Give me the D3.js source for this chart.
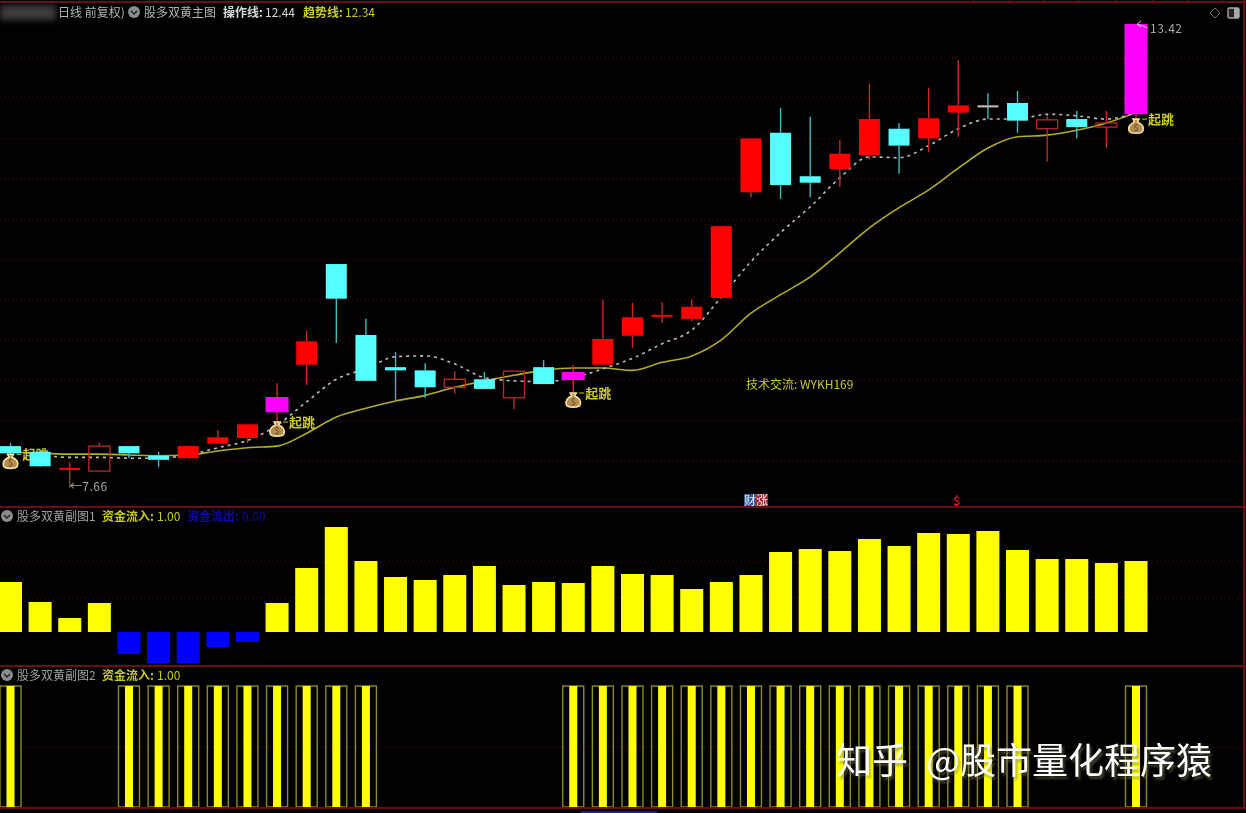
<!DOCTYPE html>
<html lang="zh">
<head>
    <meta charset="UTF-8">
    <title>股多双黄</title>
    <script src="https://cdn.jsdelivr.net/npm/d3@7/dist/d3.min.js"></script>
    <style>
        html, body { margin: 0; padding: 0; background: #000; overflow: hidden; }
        svg { display: block; }
        text { font-family: "Noto Sans CJK SC", "Noto Sans", sans-serif; }
        .chart { filter: blur(0.45px); }
        .grid line { stroke: #5a0d14; stroke-dasharray: 1 3; }
        .grid path { display: none; }
        .top-axis line { stroke: #7a0f18; }
        .top-axis path { display: none; }
        .divider { stroke: #6e0a14; stroke-width: 2; }
        .watermark { font-size: 36px; fill: #fff; filter: drop-shadow(2px 3px 1px rgba(120,120,90,.55)); }
    </style>
</head>
<body>
    <svg width="1246" height="813"></svg>
    <script>
        // candles, one per day
        var opens  = [8.18,8.11,7.90,7.87,8.18,8.06,8.03,8.21,8.28,8.60,9.19,10.44,9.56,9.16,9.12,8.91,9.01,8.78,9.16,9.00,9.19,9.55,9.80,9.76,10.02,11.33,12.07,11.53,11.62,11.79,12.12,12.00,12.32,12.41,12.44,12.12,12.24,12.14,12.30];
        var closes = [8.09,7.93,7.91,8.18,8.09,8.01,8.18,8.29,8.45,8.79,9.48,10.01,8.99,9.12,8.91,9.01,8.89,9.11,8.95,9.10,9.51,9.78,9.81,9.91,10.91,12.00,11.42,11.45,11.81,12.24,11.91,12.25,12.41,12.40,12.22,12.23,12.14,12.19,13.42];
        var highs  = [8.22,8.13,7.98,8.22,8.18,8.11,8.18,8.38,8.45,8.96,9.61,10.44,9.76,9.35,9.21,9.11,9.10,9.11,9.25,9.19,10.00,9.96,9.97,10.00,10.91,12.00,12.38,12.27,11.98,12.68,12.19,12.63,12.97,12.56,12.59,12.29,12.34,12.34,13.42];
        var lows   = [8.04,7.92,7.66,7.87,8.03,7.92,8.03,8.21,8.22,8.47,8.94,9.46,8.99,8.75,8.78,8.83,8.89,8.64,8.95,8.84,9.19,9.40,9.71,9.73,10.01,11.27,11.25,11.27,11.40,11.74,11.56,11.83,12.02,12.24,12.07,11.71,12.00,11.88,12.17];
        var hollowDays = [3,15,17,35,37];
        var magentaDays = [9,19,38];
        var jumpDays = [0,9,19,38];
        var jumpBagPrices = [7.98,8.38,8.74,12.14];

        var operateLine = [null,8.07,8.04,8.04,8.03,8.03,8.07,8.16,8.25,8.44,8.73,9.01,9.14,9.29,9.30,9.20,9.03,8.99,8.98,9.03,9.14,9.27,9.45,9.62,10.03,10.47,10.83,11.15,11.51,11.77,11.76,11.91,12.12,12.24,12.24,12.30,12.28,12.24,12.32];
        var trendLine = [8.11,8.09,8.08,8.08,8.07,8.06,8.07,8.12,8.16,8.18,8.34,8.54,8.65,8.74,8.81,8.91,8.99,9.06,9.12,9.15,9.15,9.12,9.22,9.30,9.50,9.83,10.06,10.28,10.58,10.89,11.14,11.36,11.63,11.88,12.02,12.04,12.10,12.19,12.32];

        // sub chart 1 and 2
        var moneyFlow = [5.0,3.0,1.4,2.9,-2.2,-3.1,-3.1,-1.5,-1.0,2.9,6.4,10.5,7.1,5.5,5.2,5.7,6.6,4.7,5.0,4.9,6.6,5.8,5.7,4.3,5.0,5.7,8.0,8.3,8.1,9.3,8.6,9.9,9.8,10.1,8.2,7.3,7.3,6.9,7.1];
        var inflowFlag = [1,0,0,0,1,1,1,1,1,1,1,1,1,0,0,0,0,0,0,1,1,1,1,1,1,1,1,1,1,1,1,1,1,1,1,0,0,0,1];

        var priceGrid = [13,12.5,12,11.5,11,10.5,10,9.5,9,8.5,8];
        var flowGrid = [7,3.5];
        var flagGrid = [0.5];
        var topTicks = [32.5,33.7,34.9,36.05,37.3,38.55,39.75,40.9];

        var svg = d3.select('svg'),
            width = 1246,
            chart = svg.append('g').classed('chart', true),
            x = d3.scaleLinear().domain([0, 38]).range([10.5, 1136]),
            y = d3.scaleLinear().domain([7.66, 13.42]).range([488, 24]),
            yFlow = d3.scaleLinear().domain([-3.1, 10.5]).range([663, 527]),
            yFlag = d3.scaleLinear().domain([0, 1]).range([807, 686]);

        var days = d3.range(opens.length);
        var white = '#b4b4b4', gold = '#c8c828', blue = '#0c0ca0';

        function grid(scale, values) {
            chart.append('g')
                .classed('grid', true)
                .call(d3.axisLeft(scale).tickValues(values).tickSize(-width).tickFormat(''));
        }
        grid(y, priceGrid);
        grid(yFlow, flowGrid);
        grid(yFlag, flagGrid);

        chart.append('g')
            .classed('top-axis', true)
            .attr('transform', 'translate(0,3)')
            .call(d3.axisTop(x).tickValues(topTicks).tickSize(3).tickFormat(''));

        // lines go under the candles, hollow ones let them through
        var lineG = d3.line()
            .defined(function(d) { return d !== null; })
            .curve(d3.curveMonotoneX)
            .x(function(d, i) { return x(i); })
            .y(function(d) { return y(d); });

        chart.append('path')
            .datum(trendLine)
            .attr('d', lineG)
            .attr('fill', 'none')
            .attr('stroke', '#b4ac24')
            .attr('stroke-width', 1.6);

        chart.append('path')
            .datum(operateLine)
            .attr('d', lineG)
            .attr('fill', 'none')
            .attr('stroke', '#bcbcbc')
            .attr('stroke-width', 1.6)
            .attr('stroke-dasharray', '3 4');

        // jump labels
        var jumpG = chart.selectAll('.jump')
            .data(jumpDays)
            .enter().append('g')
            .classed('jump', true)
            .attr('transform', function(d, i) { return 'translate(' + x(d) + ',' + y(jumpBagPrices[i]) + ')'; });

        jumpG.append('line')
            .attr('x1', 6).attr('x2', 11)
            .attr('y1', -8).attr('y2', -8)
            .attr('stroke', gold);

        jumpG.append('text')
            .attr('x', 12)
            .attr('y', -3)
            .attr('font-size', 13)
            .attr('font-weight', 700)
            .attr('fill', gold)
            .text('起跳');

        // candles
        function isUp(i) { return closes[i] >= opens[i]; }
        function isHollow(i) { return hollowDays.indexOf(i) >= 0; }
        function isMagenta(i) { return magentaDays.indexOf(i) >= 0; }
        function wickColor(i) { return isUp(i) && i !== 33 ? '#c82828' : '#3cbcbc'; }
        function bodyColor(i) {
            if (isMagenta(i)) return '#ff00ff';
            if (isHollow(i)) return 'none';
            return isUp(i) ? '#ff0000' : '#55ffff';
        }

        var candle = chart.selectAll('.candle')
            .data(days)
            .enter().append('g')
            .classed('candle', true);

        // wick stops at the body so a hollow body stays empty
        candle.append('line')
            .attr('x1', function(i) { return x(i); })
            .attr('x2', function(i) { return x(i); })
            .attr('y1', function(i) { return y(highs[i]); })
            .attr('y2', function(i) { return y(Math.max(opens[i], closes[i])); })
            .attr('stroke', wickColor)
            .attr('stroke-width', 1.4);

        candle.append('line')
            .attr('x1', function(i) { return x(i); })
            .attr('x2', function(i) { return x(i); })
            .attr('y1', function(i) { return y(Math.min(opens[i], closes[i])); })
            .attr('y2', function(i) { return y(lows[i]); })
            .attr('stroke', wickColor)
            .attr('stroke-width', 1.4);

        candle.append('rect')
            .attr('x', function(i) { return x(i) - (isMagenta(i) ? 11.5 : 10.5); })
            .attr('width', function(i) { return isMagenta(i) ? 23 : 21; })
            .attr('y', function(i) { return y(Math.max(opens[i], closes[i])); })
            .attr('height', function(i) { return Math.max(2, Math.abs(y(opens[i]) - y(closes[i]))); })
            .attr('fill', bodyColor)
            .attr('stroke', function(i) { return isHollow(i) ? '#b82a2a' : 'none'; })
            .attr('stroke-width', 1.3);

        candle.filter(function(i) { return i === 33; }).select('rect')
            .attr('fill', '#d8b8b8');

        // money bags sit on top of the wicks
        var bag = chart.selectAll('.bag')
            .data(jumpDays)
            .enter().append('g')
            .classed('bag', true)
            .attr('transform', function(d, i) { return 'translate(' + x(d) + ',' + y(jumpBagPrices[i]) + ')'; });

        bag.append('path')
            .attr('d', 'M-3,-8 L3,-8 L1.5,-5 C6,-3 8,0 7,3.5 C6,7 -6,7 -7,3.5 C-8,0 -6,-3 -1.5,-5 Z')
            .attr('fill', '#b08c50')
            .attr('stroke', '#f8e4a0')
            .attr('stroke-width', 1.6);

        bag.append('text')
            .attr('y', 4)
            .attr('text-anchor', 'middle')
            .attr('font-size', 9)
            .attr('fill', '#6a4a20')
            .text('$');

        // high / low marks
        chart.append('text')
            .attr('x', x(2))
            .attr('y', y(7.66) + 3)
            .attr('font-size', 12)
            .attr('letter-spacing', 0.5)
            .attr('fill', '#a8a8a8')
            .text('←7.66');

        chart.append('path')
            .attr('d', 'M1137,24 L1148,28 M1137,24 L1141,21 M1137,24 L1141,27')
            .attr('fill', 'none')
            .attr('stroke', '#e8a8e8')
            .attr('stroke-width', 1);

        chart.append('text')
            .attr('x', 1150)
            .attr('y', y(13.42) + 9)
            .attr('font-size', 12)
            .attr('letter-spacing', 0.5)
            .attr('fill', '#a8a8a8')
            .text('13.42');

        // sub chart 1
        chart.selectAll('.flow')
            .data(days)
            .enter().append('rect')
            .classed('flow', true)
            .attr('x', function(i) { return x(i) - 11.5; })
            .attr('width', 23)
            .attr('y', function(i) { return yFlow(Math.max(moneyFlow[i], 0)); })
            .attr('height', function(i) { return Math.abs(yFlow(moneyFlow[i]) - yFlow(0)); })
            .attr('fill', function(i) { return moneyFlow[i] >= 0 ? '#ffff00' : '#0000ff'; });

        // sub chart 2
        var flagDays = days.filter(function(i) { return inflowFlag[i]; });

        chart.selectAll('.flag-box')
            .data(flagDays)
            .enter().append('rect')
            .classed('flag-box', true)
            .attr('x', function(i) { return x(i) - 10.5; })
            .attr('width', 21)
            .attr('y', function(i) { return yFlag(inflowFlag[i]); })
            .attr('height', function(i) { return yFlag(0) - yFlag(inflowFlag[i]); })
            .attr('fill', 'none')
            .attr('stroke', '#8c8c20')
            .attr('stroke-width', 1.4);

        chart.selectAll('.flag-bar')
            .data(flagDays)
            .enter().append('rect')
            .classed('flag-bar', true)
            .attr('x', function(i) { return x(i) - 4; })
            .attr('width', 8)
            .attr('y', function(i) { return yFlag(inflowFlag[i]); })
            .attr('height', function(i) { return yFlag(0) - yFlag(inflowFlag[i]); })
            .attr('fill', '#ffff00');

        // frame
        [2, 507, 666, 808].forEach(function(v) {
            chart.append('line')
                .classed('divider', true)
                .attr('x1', 0).attr('x2', width)
                .attr('y1', v).attr('y2', v);
        });
        chart.append('line')
            .classed('divider', true)
            .attr('x1', 1244).attr('x2', 1244)
            .attr('y1', 0).attr('y2', 808);

        chart.append('rect')
            .attr('x', 581).attr('y', 811)
            .attr('width', 76).attr('height', 2)
            .attr('fill', '#20207a');

        // headers
        function label(px, py, str, color, size, weight) {
            return chart.append('text')
                .attr('x', px)
                .attr('y', py)
                .attr('font-size', size || 12)
                .attr('font-weight', weight || 400)
                .attr('fill', color)
                .text(str);
        }

        function chevron(px, py) {
            chart.append('circle').attr('cx', px).attr('cy', py).attr('r', 6).attr('fill', '#8c8c8c');
            chart.append('path')
                .attr('d', 'M' + (px - 3) + ',' + (py - 1) + ' L' + px + ',' + (py + 2) + ' L' + (px + 3) + ',' + (py - 1))
                .attr('fill', 'none')
                .attr('stroke', '#222')
                .attr('stroke-width', 1.5);
        }

        chart.append('rect')
            .attr('x', 0).attr('y', 5)
            .attr('width', 56).attr('height', 15)
            .attr('fill', '#3c3c3c')
            .style('filter', 'blur(3px)');

        label(58, 17, '日线 前复权)', white);
        chevron(134, 12);
        label(144, 17, '股多双黄主图', white);
        label(223, 17, '操作线:', '#d8d8d8', 12, 700);
        label(265, 17, '12.44', '#d8d8d8');
        label(303, 17, '趋势线:', gold, 12, 700);
        label(345, 17, '12.34', gold);

        chevron(7, 516);
        label(17, 521, '股多双黄副图1', '#a0a0a0');
        label(102, 521, '资金流入:', gold, 12, 700);
        label(157, 521, '1.00', gold);
        label(187, 521, '资金流出:', blue, 12, 700);
        label(242, 521, '0.00', blue);

        chevron(7, 675);
        label(17, 680, '股多双黄副图2', '#a0a0a0');
        label(102, 680, '资金流入:', gold, 12, 700);
        label(157, 680, '1.00', gold);

        label(746, 389, '技术交流: WYKH169', gold, 12);

        // news marks above the divider
        chart.append('rect').attr('x', 744).attr('y', 494).attr('width', 12).attr('height', 12).attr('fill', '#2c5c98');
        chart.append('rect').attr('x', 756).attr('y', 494).attr('width', 12).attr('height', 12).attr('fill', '#983030');
        label(744, 505, '财涨', '#e8e8e8', 12);
        label(953, 506, '$', '#c01818', 13, 700);

        // corner icons
        chart.append('path')
            .attr('d', 'M1215,8 L1220,13 L1215,18 L1210,13 Z')
            .attr('fill', 'none')
            .attr('stroke', '#707070');
        chart.append('rect')
            .attr('x', 1228).attr('y', 8)
            .attr('width', 11).attr('height', 10)
            .attr('rx', 1.5)
            .attr('fill', '#222')
            .attr('stroke', '#a8a8a8')
            .attr('stroke-width', 1.4);
        chart.append('rect')
            .attr('x', 1234).attr('y', 8)
            .attr('width', 5).attr('height', 10)
            .attr('fill', '#a8a8a8');

        // watermark
        svg.append('text').classed('watermark', true).attr('x', 836).attr('y', 774).text('知乎');
        svg.append('text').classed('watermark', true).attr('x', 926).attr('y', 774).text('@股市量化程序猿');
    </script>
</body>
</html>
